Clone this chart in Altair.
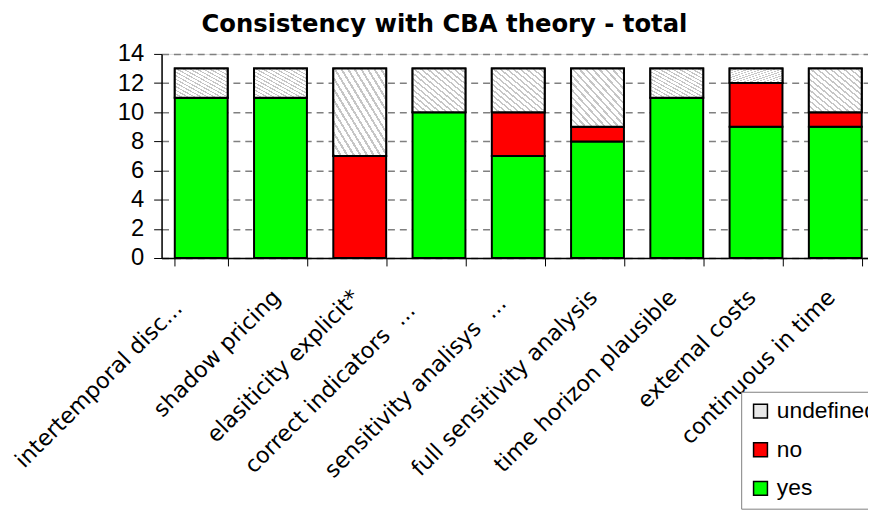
import altair as alt
import pandas as pd

NB = "\u00a0"
categories = [
    "intertemporal disc...",
    "shadow pricing",
    "elasiticity explicit*",
    "correct indicators" + NB * 2 + "...",
    "sensitivity analisys" + NB * 2 + "...",
    "full sensitivity analysis",
    "time horizon plausible",
    "external costs",
    "continuous in time",
]
yes = [11, 11, 0, 10, 7, 8, 11, 9, 9]
no = [0, 0, 7, 0, 3, 1, 0, 3, 1]
undefined = [2, 2, 6, 3, 3, 4, 2, 1, 3]
legend_order = ["undefined", "no", "yes"]
colors = ["#e8e8e8", "#ff0000", "#00ff00"]
y_ticks = [0, 2, 4, 6, 8, 10, 12, 14]

rows = []
for i, cat in enumerate(categories):
    base = 0
    for name, vals in (("yes", yes), ("no", no), ("undefined", undefined)):
        v = vals[i]
        if v > 0:
            rows.append({"category": cat, "series": name, "value": v,
                         "y0": base, "y1": base + v})
        base += v
df = pd.DataFrame(rows)

# hatch pattern imitation via sharp-stop linear gradient
n_stripes = 16
stops = []
for k in range(n_stripes):
    a = k / n_stripes
    b = (k + 0.35) / n_stripes
    c = (k + 1) / n_stripes
    stops += [alt.GradientStop(offset=a, color="#c6c6c6"),
              alt.GradientStop(offset=b, color="#c6c6c6"),
              alt.GradientStop(offset=b, color="#ffffff"),
              alt.GradientStop(offset=c, color="#ffffff")]
hatch = alt.LinearGradient(gradient="linear", stops=stops, x1=0, y1=1, x2=1, y2=0)

XFONT = "DejaVu Sans"
FONT = "Liberation Sans"

# truncated (ellipsis) labels sit a little lower-left, as in the original
offset_expr = ("indexof(datum.label, 'analisys') >= 0 ? -24 : "
               "indexof(datum.label, 'disc') >= 0 ? -31 : "
               "indexof(datum.label, '...') >= 0 ? -36 : -12")
padding_expr = ("indexof(datum.label, 'analisys') >= 0 ? 26 : "
                "indexof(datum.label, 'disc') >= 0 ? 31 : "
                "indexof(datum.label, '...') >= 0 ? 33 : 20")

x_enc = alt.X(
    "category:N",
    sort=categories,
    scale=alt.Scale(paddingInner=0.333, paddingOuter=0.1667, range=[0, 720]),
    axis=alt.Axis(
        title=None, labelAngle=-45, labelAlign="right", labelBaseline="top",
        labelFont=XFONT, labelFontSize=22.5, labelColor="black",
        labelPadding=alt.ExprRef(padding_expr),
        labelOffset=alt.ExprRef(offset_expr),
        labelLimit=0, labelOverlap=False,
        tickSize=8, tickColor="black", tickWidth=1,
        domainColor="black", domainWidth=1.5, tickBand="extent", grid=False,
    ),
)
y_enc = alt.Y(
    "y0:Q",
    scale=alt.Scale(domain=[0, 14], nice=False, zero=True),
    axis=alt.Axis(
        title=None, values=y_ticks, tickCount=8, labelFont=FONT, labelFontSize=24,
        labelColor="black", labelPadding=10, labelOverlap=False,
        tickSize=8, tickColor="black",
        tickWidth=1, domainColor="black", domainWidth=1.5,
        grid=True, gridColor="#808080", gridDash=[7, 5], gridWidth=1.5,
    ),
)

bars = alt.Chart(df).mark_bar(stroke="black", strokeWidth=2).encode(
    x=x_enc,
    y=y_enc,
    y2="y1:Q",
    color=alt.Color(
        "series:N",
        scale=alt.Scale(domain=legend_order, range=colors),
        legend=alt.Legend(
            title=None, orient="none", legendX=585, legendY=341,
            symbolType="square", symbolSize=196, symbolStrokeColor="black",
            symbolStrokeWidth=1.5, symbolOpacity=1,
            labelFont=FONT, labelFontSize=23, labelColor="black",
            labelOffset=5, rowPadding=15, padding=8, labelLimit=0,
            strokeColor="#808080", fillColor="white",
        ),
    ),
)

hatched = alt.Chart(df).transform_filter(
    alt.datum.series == "undefined"
).mark_bar(fill=hatch, stroke="black", strokeWidth=2).encode(
    x=x_enc,
    y=y_enc,
    y2="y1:Q",
)

chart = alt.layer(bars, hatched).properties(
    width=713,
    height=206,
    title=alt.TitleParams(
        "Consistency with CBA theory - total",
        font=XFONT, fontSize=24.5, fontWeight="bold", color="black",
        anchor="middle", frame="group", dx=-71, dy=36, offset=22,
        baseline="alphabetic",
    ),
    autosize=alt.AutoSizeParams(type="none"),
    padding={"left": 155, "top": 44, "right": 0, "bottom": 253},
).configure_view(stroke=None).configure(background="white")

chart.save("out.html", embed_options={"renderer": "svg", "actions": False})
